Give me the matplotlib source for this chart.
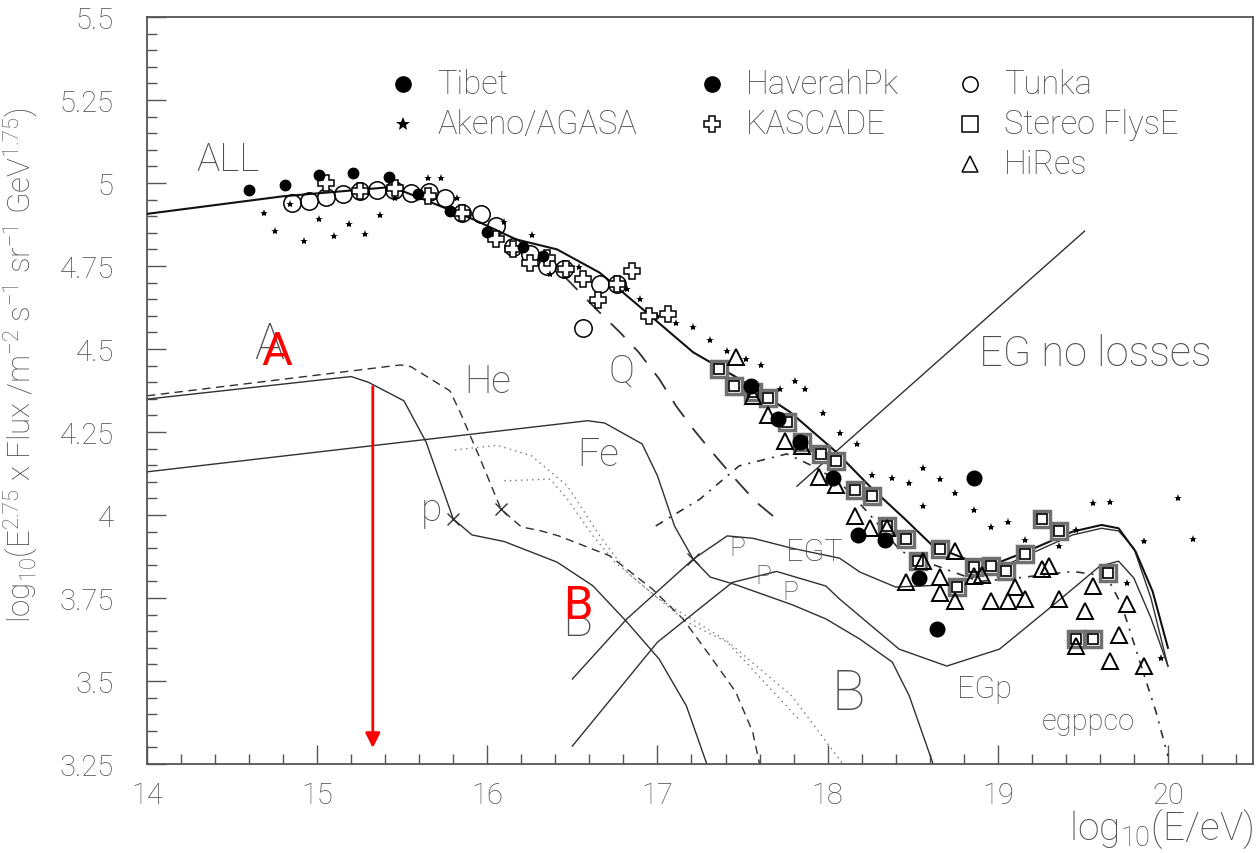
import matplotlib
matplotlib.use("Agg")
from matplotlib import pyplot as plt
from matplotlib.ticker import MultipleLocator, FuncFormatter

plt.rcParams['font.family'] = ['Roboto', 'Liberation Sans', 'DejaVu Sans']
plt.rcParams['font.weight'] = 'light'
plt.rcParams['axes.labelweight'] = 'light'
plt.rcParams['mathtext.fontset'] = 'custom'
plt.rcParams['mathtext.rm'] = 'Roboto:light'
plt.rcParams['mathtext.default'] = 'rm'
plt.rcParams['lines.scale_dashes'] = False

TXT = '#505050'
LN = '#303030'

# ---- model curves: log10(E/eV) vs log10(E^2.75 x flux) ----
all_x = [14.0, 14.8, 15.44, 15.58, 15.92, 16.17, 16.41, 16.66, 16.89, 17.21, 17.48, 17.78,
         18.05, 18.26, 18.45, 18.62, 18.85, 19.01, 19.17, 19.44, 19.61, 19.71, 19.81, 19.91, 20.0]
all_y = [4.907, 4.96, 4.988, 4.96, 4.89, 4.83, 4.80, 4.73, 4.63, 4.49, 4.41, 4.31,
         4.19, 4.08, 3.99, 3.906, 3.86, 3.858, 3.89, 3.95, 3.97, 3.96, 3.89, 3.77, 3.60]

p_x = [14.0, 15.2, 15.3, 15.51, 15.64, 15.8, 15.91, 16.10, 16.41, 16.62, 16.82, 17.01, 17.17, 17.29]
p_y = [4.349, 4.417, 4.40, 4.344, 4.22, 3.988, 3.94, 3.92, 3.858, 3.787, 3.678, 3.566, 3.425, 3.25]

he_x = [14.0, 15.49, 15.55, 15.78, 15.84, 15.95, 16.08, 16.2, 16.31, 16.42, 16.72, 16.97,
        17.15, 17.31, 17.46, 17.56, 17.6]
he_y = [4.359, 4.452, 4.447, 4.374, 4.31, 4.179, 4.018, 3.964, 3.953, 3.937, 3.877, 3.777,
        3.687, 3.575, 3.467, 3.346, 3.25]

fe_x = [14.0, 16.59, 16.69, 16.91, 17.0, 17.1, 17.21, 17.31, 17.46, 17.79, 17.99, 18.19,
        18.38, 18.48, 18.62]
fe_y = [4.13, 4.284, 4.277, 4.214, 4.118, 3.967, 3.867, 3.813, 3.79, 3.73, 3.687, 3.626,
        3.557, 3.455, 3.25]

dot1_x = [15.81, 16.06, 16.26, 16.47, 16.66, 16.82, 17.17, 17.41, 17.83]
dot1_y = [4.196, 4.21, 4.178, 4.088, 3.938, 3.828, 3.678, 3.617, 3.385]
dot2_x = [16.1, 16.37, 16.47, 16.62, 16.75, 17.0, 17.41, 17.79, 18.09]
dot2_y = [4.103, 4.108, 4.048, 3.938, 3.858, 3.75, 3.62, 3.455, 3.25]

q_x = [16.45, 16.64, 16.78, 16.89, 17.01, 17.11, 17.21, 17.32, 17.44, 17.58, 17.7]
q_y = [4.72, 4.62, 4.55, 4.49, 4.41, 4.328, 4.259, 4.19, 4.118, 4.039, 3.988]

egt_x = [16.5, 16.82, 17.21, 17.41, 17.56, 17.79, 18.07, 18.19, 18.40, 18.72, 18.9, 19.05,
         19.2, 19.44, 19.61, 19.71, 19.8, 19.9, 20.0]
egt_y = [3.506, 3.687, 3.867, 3.937, 3.93, 3.90, 3.87, 3.828, 3.783, 3.79, 3.82, 3.85,
         3.885, 3.94, 3.96, 3.952, 3.90, 3.75, 3.545]

egp_x = [16.5, 17.0, 17.44, 17.7, 17.99, 18.07, 18.42, 18.70, 19.01, 19.32, 19.6, 19.71,
         19.8, 19.9, 20.0]
egp_y = [3.304, 3.617, 3.797, 3.83, 3.786, 3.747, 3.596, 3.545, 3.596, 3.726, 3.846, 3.861,
         3.81, 3.69, 3.545]

egppco_x = [16.99, 17.25, 17.48, 17.76, 17.91, 18.07, 18.25, 18.42, 18.48, 18.89, 19.11,
            19.44, 19.64, 19.73, 19.83, 19.93, 20.0]
egppco_y = [3.967, 4.048, 4.148, 4.184, 4.148, 4.10, 4.0, 3.897, 3.877, 3.80, 3.81,
            3.83, 3.816, 3.726, 3.566, 3.407, 3.274]

eg_noloss_x = [17.82, 19.51]
eg_noloss_y = [4.087, 4.855]

# ---- measurements ----
tibet_x = [14.60, 14.81, 15.01, 15.21, 15.42, 15.59, 15.78, 16.0, 16.21, 16.33]
tibet_y = [4.98, 4.995, 5.025, 5.03, 5.017, 4.967, 4.917, 4.852, 4.808, 4.78]

haverah_x = [17.55, 17.71, 17.84, 18.03, 18.18, 18.34, 18.54, 18.64, 18.86]
haverah_y = [4.39, 4.29, 4.219, 4.11, 3.94, 3.925, 3.81, 3.658, 4.11]

tunka_x = [14.85, 14.95, 15.05, 15.15, 15.25, 15.35, 15.45, 15.55, 15.66, 15.75, 15.85,
           15.96, 16.05, 16.15, 16.25, 16.35, 16.45, 16.56, 16.66, 16.76]
tunka_y = [4.94, 4.947, 4.957, 4.967, 4.977, 4.978, 4.98, 4.97, 4.972, 4.954, 4.91,
           4.906, 4.871, 4.806, 4.786, 4.751, 4.741, 4.562, 4.696, 4.696]

kascade_x = [15.05, 15.25, 15.46, 15.65, 15.85, 16.05, 16.15, 16.25, 16.35, 16.46, 16.56,
             16.65, 16.76, 16.85, 16.95, 17.06]
kascade_y = [5.0, 4.977, 4.985, 4.961, 4.91, 4.831, 4.80, 4.759, 4.774, 4.741, 4.711,
             4.648, 4.696, 4.736, 4.60, 4.605]

agasa_x = [14.69, 14.75, 14.84, 14.92, 15.01, 15.1, 15.19, 15.28, 15.37, 15.46, 15.65, 15.73,
           15.82, 16.1, 16.26, 16.37, 16.54, 16.82, 16.9, 17.0, 17.11, 17.21, 17.31, 17.41,
           17.52, 17.61, 17.72, 17.81, 17.87, 17.97, 18.07, 18.17, 18.26, 18.38, 18.48, 18.56,
           18.66, 18.56, 18.75, 18.86, 18.96, 19.06, 19.16, 19.36, 19.46, 19.56, 19.66, 19.76,
           19.86, 19.96, 20.06, 20.15]
agasa_y = [4.91, 4.856, 4.937, 4.826, 4.893, 4.841, 4.878, 4.847, 4.903, 4.956, 5.015, 5.015,
           4.954, 4.884, 4.844, 4.726, 4.746, 4.681, 4.652, 4.60, 4.578, 4.565, 4.528, 4.495,
           4.47, 4.453, 4.38, 4.405, 4.38, 4.307, 4.247, 4.214, 4.12, 4.11, 4.096, 4.143,
           4.108, 4.028, 4.065, 4.016, 3.965, 3.98, 3.925, 3.907, 3.955, 4.035, 4.04, 3.795,
           3.922, 3.568, 4.05, 3.928]

fly_x = [17.36, 17.45, 17.56, 17.65, 17.76, 17.85, 17.96, 18.05, 18.16, 18.26, 18.35, 18.46,
         18.53, 18.66, 18.76, 18.86, 18.96, 19.05, 19.16, 19.26, 19.36, 19.46, 19.56, 19.65]
fly_y = [4.44, 4.388, 4.37, 4.351, 4.28, 4.219, 4.184, 4.163, 4.075, 4.058, 3.967, 3.928,
         3.86, 3.898, 3.782, 3.844, 3.847, 3.832, 3.883, 3.988, 3.952, 3.628, 3.628, 3.824]

hires_x = [17.46, 17.56, 17.65, 17.75, 17.85, 17.95, 18.05, 18.16, 18.25, 18.35, 18.46, 18.56,
           18.66, 18.66, 18.75, 18.75, 18.86, 18.91, 18.96, 19.06, 19.1, 19.16, 19.26, 19.3,
           19.36, 19.46, 19.51, 19.56, 19.66, 19.71, 19.76, 19.86]
hires_y = [4.475, 4.359, 4.302, 4.222, 4.209, 4.113, 4.09, 3.997, 3.962, 3.962, 3.797, 3.862,
           3.812, 3.766, 3.892, 3.742, 3.817, 3.819, 3.742, 3.742, 3.782, 3.747, 3.837, 3.847,
           3.747, 3.606, 3.712, 3.787, 3.561, 3.638, 3.732, 3.545]

legend_names = ['Tibet', 'Akeno/AGASA', 'HaverahPk', 'KASCADE', 'Tunka', 'Stereo FlysE', 'HiRes']

fig = plt.figure(figsize=(12.57, 8.54), dpi=100)
ax = fig.add_axes([147 / 1257, 89 / 854, 1106 / 1257, 747 / 854])

# curves
ax.plot(all_x, all_y, color='#111111', lw=1.5, zorder=3)
ax.plot(p_x, p_y, color=LN, lw=1.0)
ax.plot(he_x, he_y, color=LN, lw=1.0, dashes=(6, 4))
ax.plot(fe_x, fe_y, color=LN, lw=1.0)
ax.plot(dot1_x, dot1_y, color='#777777', lw=1.0, dashes=(1, 3))
ax.plot(dot2_x, dot2_y, color='#777777', lw=1.0, dashes=(1, 3))
ax.plot(q_x, q_y, color=LN, lw=1.3, dashes=(14, 10))
ax.plot(egt_x, egt_y, color=LN, lw=1.0)
ax.plot(egp_x, egp_y, color=LN, lw=1.0)
ax.plot(egppco_x, egppco_y, color=LN, lw=1.2, dashes=(6, 5, 1.5, 5))
ax.plot(eg_noloss_x, eg_noloss_y, color=LN, lw=1.0)

# crossing marks
ax.plot([p_x[5], he_x[6], fe_x[6]], [p_y[5], he_y[6], fe_y[6]], 'x', color=LN, ms=8, mew=1.0)

# data points
ax.plot(agasa_x, agasa_y, '*', color='black', ms=6, mew=0, zorder=4)
ax.plot(tunka_x, tunka_y, 'o', mfc='none', mec='black', ms=12.5, mew=1.1, zorder=5)
ax.plot(kascade_x, kascade_y, 'P', mfc='white', mec='black', ms=12, mew=1.1, zorder=6)
ax.plot(tibet_x, tibet_y, 'o', color='black', ms=7.5, zorder=7)
ax.plot(haverah_x, haverah_y, 'o', color='black', ms=10.5, zorder=7)
ax.plot(fly_x, fly_y, 's', mfc='white', mec='#707070', ms=12, mew=2.5, zorder=5)
ax.plot(fly_x, fly_y, 's', mfc='white', mec='black', ms=7, mew=1.2, zorder=5)
ax.plot(hires_x, hires_y, '^', mfc='none', mec='black', ms=12, mew=1.4, zorder=6)

# legend, three columns
leg_mark = [('o', dict(color='black', ms=11)),
            ('*', dict(color='black', ms=10, mew=0)),
            ('o', dict(color='black', ms=11)),
            ('P', dict(mfc='white', mec='black', ms=12, mew=1.1)),
            ('o', dict(mfc='none', mec='black', ms=11, mew=1.1)),
            ('s', dict(mfc='none', mec='black', ms=11, mew=1.1)),
            ('^', dict(mfc='none', mec='black', ms=12, mew=1.1))]
leg_pos = [(0.2315, 0.910), (0.2315, 0.857), (0.5108, 0.910), (0.5108, 0.857),
           (0.744, 0.910), (0.744, 0.857), (0.744, 0.803)]
for name, (m, kw), (lx, ly) in zip(legend_names, leg_mark, leg_pos):
    ax.plot([lx], [ly], m, transform=ax.transAxes, clip_on=False, **kw)
    ax.text(lx + 0.031, ly, name, transform=ax.transAxes, fontsize=23.5, color=TXT,
            va='center', ha='left')

# curve labels
lab = dict(color=TXT, ha='center', va='center')
ax.text(14.476, 5.072, 'ALL', fontsize=28, **lab)
ax.text(14.72, 4.515, 'A', fontsize=36, **lab)
ax.text(16.0, 4.404, 'He', fontsize=28, **lab)
ax.text(16.79, 4.434, 'Q', fontsize=28, **lab)
ax.text(16.65, 4.184, 'Fe', fontsize=28, **lab)
ax.text(15.67, 4.018, 'p', fontsize=28, **lab)
ax.text(16.53, 3.68, 'B', fontsize=36, **lab)
ax.text(19.57, 4.485, 'EG no losses', fontsize=30, **lab)
ax.text(17.92, 3.89, 'EGT', fontsize=22, **lab)
ax.text(17.47, 3.90, 'P', fontsize=19, **lab)
ax.text(17.62, 3.816, 'P', fontsize=19, **lab)
ax.text(17.78, 3.768, 'P', fontsize=19, **lab)
ax.text(18.12, 3.461, 'B', fontsize=40, **lab)
ax.text(18.92, 3.476, 'EGp', fontsize=22, **lab)
ax.text(19.53, 3.38, 'egppco', fontsize=21, **lab)

# red annotations
ax.text(14.76, 4.494, 'A', fontsize=34, color='red', fontweight='normal',
        ha='center', va='center')
ax.text(16.53, 3.73, 'B', fontsize=34, color='red', fontweight='normal',
        ha='center', va='center')
ax.annotate('', xy=(15.327, 3.29), xytext=(15.327, 4.395),
            arrowprops=dict(arrowstyle='-|>', color='red', lw=2, mutation_scale=22))

ax.set_xlim(14, 20.5)
ax.set_ylim(3.25, 5.5)
ax.xaxis.set_major_locator(MultipleLocator(1))
ax.xaxis.set_minor_locator(MultipleLocator(0.2))
ax.yaxis.set_major_locator(MultipleLocator(0.25))
ax.yaxis.set_minor_locator(MultipleLocator(0.05))
ax.yaxis.set_major_formatter(FuncFormatter(lambda v, _: f"{v:g}"))
ax.tick_params(which='both', direction='in', top=False, right=False, color='#555555',
               labelcolor=TXT, labelsize=21)
ax.tick_params(which='major', length=14, width=1.0)
ax.tick_params(which='minor', length=7, width=1.0)
ax.tick_params(axis='y', pad=24)
ax.tick_params(axis='x', pad=12)
for s in ax.spines.values():
    s.set_color('#555555')
    s.set_linewidth(1.3)

ax.set_ylabel(r'log$_{10}$(E$^{2.75}$ x Flux /m$^{-2}$ s$^{-1}$ sr$^{-1}$ GeV$^{1.75}$)',
              fontsize=22.5, color=TXT)
ax.yaxis.set_label_coords(-0.097, 0.535)
ax.set_xlabel(r'log$_{10}$(E/eV)', fontsize=28, color=TXT, ha='right', va='center')
ax.xaxis.set_label_coords(1.0, -0.086)

fig.savefig('out.png', dpi=100)
